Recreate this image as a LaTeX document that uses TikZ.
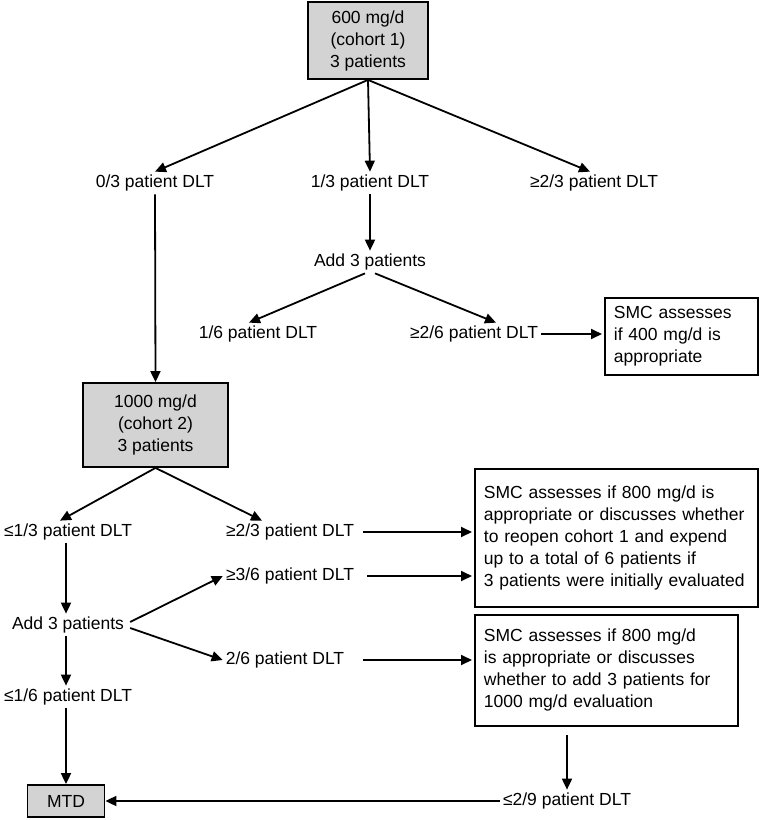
\documentclass[tikz,border=0pt]{standalone}
\usepackage{fontspec}
\setmainfont{Liberation Sans}
\usetikzlibrary{arrows.meta}
\definecolor{boxgray}{RGB}{211,211,211}
\begin{document}
\begin{tikzpicture}[x=1pt,y=-1pt,
  every node/.style={font=\fontsize{17.5}{22}\selectfont, inner sep=3pt},
  gbox/.style={draw, line width=1.8pt, fill=boxgray, align=center},
  wbox/.style={draw, line width=1.8pt, align=left, anchor=north west, inner xsep=9pt, text width=#1},
  arr/.style={line width=1.8pt, -{Triangle[length=11pt,width=10pt]}}]
\useasboundingbox (0,0) rectangle (762,820);

\node[gbox, minimum width=120, minimum height=77] (b1) at (368,40.5) {600 mg/d\\(cohort 1)\\3 patients};
\node (t03) at (155,183) {0/3 patient DLT};
\node (t13) at (370,183) {1/3 patient DLT};
\node (t23) at (594,183) {≥2/3 patient DLT};
\node (a1) at (370,262) {Add 3 patients};
\node (t16) at (258,334) {1/6 patient DLT};
\node (t26) at (474,334) {≥2/6 patient DLT};
\node[wbox=135, minimum height=77] (s1) at (604,297) {SMC assesses\\if 400 mg/d is\\appropriate};

\node[gbox, minimum width=145, minimum height=84] (b2) at (155.5,425) {1000 mg/d\\(cohort 2)\\3 patients};
\node (t13b) at (68,532) {≤1/3 patient DLT};
\node (t23b) at (290,532) {≥2/3 patient DLT};
\node[wbox=265, minimum height=138] (s2) at (474,468) {SMC assesses if 800 mg/d is\\appropriate or discusses whether\\to reopen cohort 1 and expend\\up to a total of 6 patients if\\3 patients were initially evaluated};
\node (t36) at (290,576) {≥3/6 patient DLT};
\node (a2) at (68,625) {Add 3 patients};
\node (t26b) at (285,660) {2/6 patient DLT};
\node (t16b) at (68,697) {≤1/6 patient DLT};
\node[wbox=245, minimum height=111] (s3) at (474,614) {SMC assesses if 800 mg/d\\is appropriate or discusses\\whether to add 3 patients for\\1000 mg/d evaluation};
\node (t29) at (567,801) {≤2/9 patient DLT};
\node[gbox, minimum width=77, minimum height=32] (mtd) at (66,801) {MTD};

\draw[arr] (b1.south) -- (t03.north);
\draw[arr] (b1.south) -- (t13.north);
\draw[arr] (b1.south) -- ([xshift=-4]t23.north);
\draw[arr] (t03.south) -- (b2.north);
\draw[arr] (t13.south) -- (a1.north);
\draw[arr] ([xshift=-5]a1.south) -- ([xshift=-9]t16.north);
\draw[arr] ([xshift=5]a1.south) -- ([xshift=22]t26.north);
\draw[arr, shorten >=2pt] (t26.east) -- (t26.east -| s1.west);

\draw[arr] (b2.south) -- ([xshift=-8]t13b.north);
\draw[arr] (b2.south) -- ([xshift=-28]t23b.north);
\draw[arr, shorten >=2pt] ([xshift=6]t23b.east) -- (t23b.east -| s2.west);
\draw[arr, shorten >=2pt] ([xshift=10]t36.east) -- (t36.east -| s2.west);
\draw[arr, shorten >=2pt] ([xshift=16]t26b.east) -- (t26b.east -| s3.west);
\draw[arr] ([xshift=3,yshift=3]a2.east) -- (t36.west);
\draw[arr] ([xshift=3,yshift=-3]a2.east) -- (t26b.west);
\draw[arr] (t13b.south -| mtd.north) -- (a2.north -| mtd.north);
\draw[arr] (a2.south -| mtd.north) -- (t16b.north -| mtd.north);
\draw[arr] (t16b.south -| mtd.north) -- (mtd.north);
\draw[arr, shorten <=8pt] (s3.south -| t29.north) -- (t29.north);
\draw[arr] (t29.west) -- (mtd.east);
\end{tikzpicture}
\end{document}
